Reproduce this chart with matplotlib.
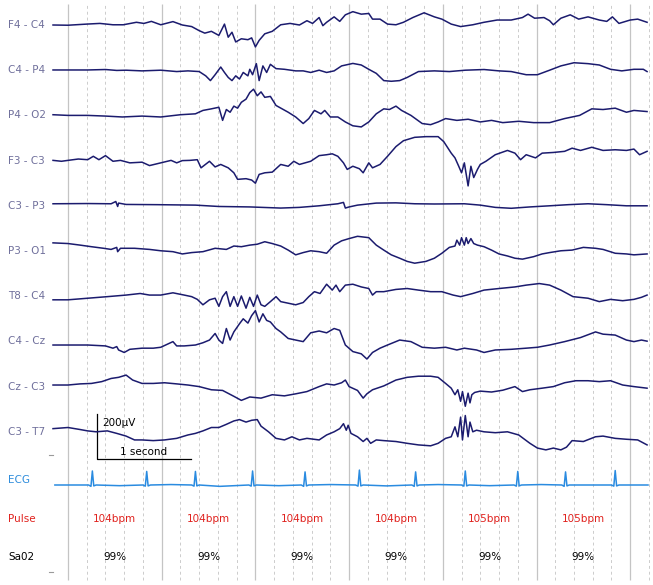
import matplotlib
matplotlib.use('Agg')
import matplotlib.pyplot as plt
import numpy as np

# EEG montage (bipolar), values in µV, time in seconds from the first solid grid line
channels = ['F4 - C4', 'C4 - P4', 'P4 - O2', 'F3 - C3', 'C3 - P3',
            'P3 - O1', 'T8 - C4', 'C4 - Cz', 'Cz - C3', 'C3 - T7']

f4c4_t = [-0.16, 0.00, 0.20, 0.34, 0.48, 0.59, 0.73, 0.81, 0.89, 0.99, 1.12, 1.22, 1.32, 1.40, 1.46,
          1.53, 1.61, 1.67, 1.71, 1.75, 1.79, 1.85, 1.92, 1.96, 2.00, 2.04, 2.10, 2.18, 2.27, 2.37,
          2.47, 2.55, 2.61, 2.68, 2.72, 2.76, 2.84, 2.90, 2.96, 3.04, 3.13, 3.21, 3.25, 3.33, 3.41,
          3.50, 3.58, 3.68, 3.80, 3.91, 3.99, 4.09, 4.19, 4.32, 4.44, 4.58, 4.73, 4.85, 4.91, 4.98,
          5.08, 5.14, 5.18, 5.26, 5.36, 5.45, 5.55, 5.67, 5.75, 5.81, 5.88, 6.00, 6.08, 6.18]
f4c4_uv = [0, -1, 4, 7, 1, 1, 12, 7, 16, 1, 15, 0, -7, -25, -36,
           -28, -46, 4, -54, -32, -75, -61, -65, -57, -97, -68, -39, -28, 1, 7,
           0, 19, 7, 33, -3, 12, 36, 16, 45, 59, 48, 51, 26, 26, 4,
           1, 12, 33, 54, 36, 26, 4, -7, 1, 12, 22, 22, 33, 48, 30,
           33, 19, 1, 30, 45, 26, 36, 22, 16, 36, 7, 22, 26, 12]

c4p4_t = [-0.16, 0.00, 0.21, 0.40, 0.52, 0.62, 0.79, 0.99, 1.16, 1.28, 1.40, 1.47, 1.52, 1.57, 1.63,
          1.67, 1.71, 1.75, 1.79, 1.83, 1.87, 1.92, 1.94, 1.97, 2.01, 2.04, 2.08, 2.12, 2.16, 2.22,
          2.31, 2.43, 2.51, 2.59, 2.68, 2.76, 2.84, 2.92, 3.04, 3.13, 3.21, 3.29, 3.37, 3.45, 3.54,
          3.62, 3.74, 3.91, 4.07, 4.24, 4.44, 4.60, 4.73, 4.89, 5.01, 5.14, 5.26, 5.40, 5.55, 5.67,
          5.79, 5.91, 6.04, 6.14, 6.18]
c4p4_uv = [1, 1, 1, 3, -1, 0, -3, 0, -6, -3, -6, -25, -46, -20, 14,
           -10, -32, -46, -25, -39, -10, -25, 4, -20, 29, -46, 19, -10, 26, 7,
           4, -3, -3, -10, 0, -10, -3, 19, 30, 23, 4, -14, -46, -49, -46,
           -32, -6, -3, -6, 0, 3, -3, -6, -20, -20, 0, 19, 33, 29, 23,
           4, -3, 4, 4, -6]

p4o2_t = [-0.16, 0.00, 0.21, 0.40, 0.58, 0.79, 0.99, 1.20, 1.36, 1.44, 1.53, 1.61, 1.65, 1.69, 1.73,
          1.77, 1.81, 1.85, 1.90, 1.94, 1.98, 2.02, 2.06, 2.10, 2.16, 2.22, 2.35, 2.43, 2.51, 2.57,
          2.63, 2.70, 2.74, 2.80, 2.88, 2.96, 3.04, 3.13, 3.21, 3.29, 3.37, 3.43, 3.50, 3.56, 3.66,
          3.78, 3.87, 3.95, 4.03, 4.15, 4.27, 4.40, 4.52, 4.64, 4.81, 4.97, 5.14, 5.30, 5.46, 5.59,
          5.71, 5.84, 5.96, 6.04, 6.18]
p4o2_uv = [3, 0, 0, -3, -7, -3, -7, 3, 7, 22, 29, 36, -22, 26, 14,
           41, 32, 58, 72, 101, 116, 87, 104, 80, 84, 44, 14, -7, -36, -14,
           22, 7, 22, -7, -7, -29, -46, -51, -29, 7, 29, 26, 41, 22, 0,
           -36, -41, -29, -14, -22, -17, -29, -22, -32, -26, -32, -32, -14, 0, 29,
           26, 32, 14, 22, 17]

f3c3_t = [-0.16, -0.07, 0.00, 0.11, 0.21, 0.27, 0.33, 0.40, 0.48, 0.56, 0.66, 0.79, 0.87, 0.99, 1.10,
          1.16, 1.22, 1.30, 1.38, 1.42, 1.51, 1.57, 1.63, 1.71, 1.77, 1.81, 1.90, 1.96, 2.00, 2.04,
          2.10, 2.18, 2.27, 2.35, 2.41, 2.47, 2.53, 2.59, 2.68, 2.76, 2.82, 2.88, 2.94, 2.98, 3.04,
          3.11, 3.15, 3.21, 3.25, 3.33, 3.41, 3.50, 3.58, 3.70, 3.82, 3.95, 4.01, 4.09, 4.13, 4.17,
          4.20, 4.23, 4.27, 4.30, 4.33, 4.37, 4.40, 4.46, 4.56, 4.69, 4.77, 4.83, 4.89, 4.99, 5.06,
          5.18, 5.30, 5.38, 5.47, 5.59, 5.71, 5.84, 5.96, 6.04, 6.10, 6.18]
f3c3_uv = [1, -3, 1, 7, 4, 19, 4, 22, -3, 1, -10, -7, -22, -10, 1,
           -10, 0, 1, 4, -32, -3, -28, -17, -32, -54, -83, -80, -86, -100, -61,
           -54, -51, -17, -25, -3, -17, -10, -3, 22, 26, 30, 19, -10, -39, -25,
           -36, -54, -10, -32, -17, 19, 62, 88, 103, 106, 106, 84, 33, 12, -25,
           -54, -10, -112, -25, -75, -39, -17, -3, 26, 45, 33, 4, 26, 12, 33,
           36, 41, 55, 45, 59, 45, 48, 45, 51, 26, 41]

c3p3_t = [-0.16, 0.21, 0.46, 0.51, 0.53, 0.54, 0.62, 0.95, 1.36, 1.61, 1.94, 2.27, 2.47, 2.68, 2.88,
          2.94, 2.96, 3.00, 3.09, 3.29, 3.50, 3.70, 3.91, 4.23, 4.40, 4.56, 4.73, 4.93, 5.14, 5.34,
          5.55, 5.75, 5.96, 6.18]
c3p3_uv = [9, 10, 9, 19, -3, 12, 6, 5, 3, -3, -5, -10, -7, 0, 9,
           15, -10, -5, 3, 12, 13, 9, 8, 9, 3, -7, -11, -5, 0, 5,
           9, 5, 0, 0]

p3o1_t = [-0.16, 0.00, 0.13, 0.25, 0.38, 0.46, 0.52, 0.53, 0.56, 0.71, 0.87, 0.99, 1.12, 1.22, 1.32,
          1.44, 1.57, 1.69, 1.77, 1.85, 1.94, 2.02, 2.10, 2.18, 2.27, 2.35, 2.43, 2.51, 2.59, 2.68,
          2.76, 2.84, 2.92, 3.00, 3.09, 3.15, 3.21, 3.29, 3.37, 3.45, 3.54, 3.62, 3.70, 3.82, 3.91,
          3.99, 4.07, 4.13, 4.15, 4.18, 4.20, 4.23, 4.25, 4.27, 4.30, 4.33, 4.37, 4.44, 4.52, 4.60,
          4.69, 4.77, 4.85, 4.97, 5.06, 5.14, 5.26, 5.38, 5.50, 5.63, 5.71, 5.84, 5.96, 6.04, 6.18]
p3o1_uv = [36, 33, 26, 19, 12, 7, 16, -3, 12, 12, 7, 1, -3, -13, -7,
           -3, 12, 7, 22, 19, 26, 30, 41, 33, 22, 4, -17, -7, 1, -3,
           -10, 26, 45, 55, 65, 62, 59, 26, 4, -17, -32, -46, -54, -46, -32,
           -10, 16, 22, 48, 26, 59, 26, 59, 33, 55, 33, 26, 19, 4, -13,
           -22, -32, -36, -25, -13, -7, 1, 4, 16, 12, 7, -10, -13, -17, -13]

t8c4_t = [-0.16, 0.00, 0.21, 0.42, 0.62, 0.77, 0.87, 0.99, 1.12, 1.24, 1.32, 1.38, 1.44, 1.51, 1.57,
          1.61, 1.65, 1.69, 1.73, 1.77, 1.81, 1.85, 1.90, 1.94, 1.98, 2.02, 2.06, 2.10, 2.16, 2.22,
          2.27, 2.35, 2.43, 2.51, 2.57, 2.63, 2.69, 2.76, 2.82, 2.86, 2.90, 2.96, 3.04, 3.13, 3.21,
          3.25, 3.29, 3.37, 3.50, 3.62, 3.74, 3.87, 3.99, 4.11, 4.19, 4.32, 4.44, 4.60, 4.77, 4.89,
          5.03, 5.14, 5.26, 5.39, 5.55, 5.67, 5.79, 5.92, 6.04, 6.12, 6.18]
t8c4_uv = [-16, -16, -9, -2, 5, 12, 5, 5, 15, 5, -2, -14, -38, -16, -9,
           -45, -2, 20, -45, -2, -45, 1, -53, -5, -45, 5, -38, -45, -24, -2,
           -24, -31, -38, -28, -2, 20, 12, 53, 27, 49, 20, 49, 53, 41, 34,
           5, 20, 20, 30, 34, 27, 20, 20, 5, -2, 12, 27, 34, 41, 49,
           56, 49, 27, -2, -9, -24, -14, -20, -14, -5, 5]

c4cz_t = [-0.16, 0.00, 0.21, 0.40, 0.48, 0.52, 0.54, 0.60, 0.66, 0.79, 0.91, 0.99, 1.12, 1.16, 1.24,
          1.36, 1.44, 1.51, 1.57, 1.61, 1.65, 1.69, 1.73, 1.77, 1.83, 1.87, 1.92, 1.96, 2.00, 2.04,
          2.08, 2.12, 2.16, 2.22, 2.27, 2.35, 2.43, 2.51, 2.59, 2.68, 2.76, 2.84, 2.90, 2.96, 3.04,
          3.13, 3.19, 3.25, 3.33, 3.41, 3.54, 3.66, 3.78, 3.91, 4.03, 4.15, 4.23, 4.36, 4.44, 4.56,
          4.73, 4.89, 5.01, 5.14, 5.30, 5.47, 5.63, 5.71, 5.84, 5.96, 6.04, 6.12, 6.18]
c4cz_uv = [-16, -16, -16, -20, -30, -23, -38, -49, -35, -30, -30, -26, -1, -20, -20,
           -16, -6, 6, 35, 6, -9, 57, 6, 42, 78, 100, 81, 114, 136, 86,
           122, 93, 86, 57, 42, 13, 6, -1, 38, 46, 38, 57, 49, -16, -45,
           -55, -78, -49, -30, -16, 6, -1, -26, -30, -26, -38, -30, -38, -49, -38,
           -35, -30, -26, -16, -1, 17, 42, 32, 28, 6, -1, 6, 1]

czc3_t = [-0.16, 0.00, 0.13, 0.25, 0.36, 0.46, 0.54, 0.62, 0.69, 0.79, 0.91, 1.03, 1.16, 1.28, 1.40,
          1.53, 1.65, 1.77, 1.85, 1.94, 2.06, 2.18, 2.31, 2.43, 2.55, 2.68, 2.76, 2.84, 2.92, 2.96,
          3.00, 3.09, 3.15, 3.19, 3.25, 3.37, 3.50, 3.62, 3.74, 3.87, 3.95, 4.03, 4.09, 4.13, 4.16,
          4.19, 4.21, 4.24, 4.27, 4.29, 4.31, 4.34, 4.40, 4.52, 4.64, 4.77, 4.85, 4.93, 5.06, 5.18,
          5.30, 5.42, 5.55, 5.67, 5.79, 5.92, 6.04, 6.18]
czc3_uv = [7, 7, 12, 14, 22, 36, 41, 51, 29, 14, 14, 17, 12, 7, 0,
           -14, -17, -43, -61, -46, -51, -36, -41, -32, -22, 0, 12, 7, 17, 29,
           0, -17, -51, -32, -14, 3, 29, 41, 46, 46, 41, 14, -7, -36, -14,
           -65, -22, -87, -29, -72, -36, -26, -20, -24, -16, 0, -22, -14, -7, 0,
           17, 26, 26, 22, 26, 7, 0, -7]

c3t7_t = [-0.16, 0.00, 0.13, 0.21, 0.30, 0.42, 0.52, 0.62, 0.71, 0.79, 0.91, 1.03, 1.16, 1.28, 1.36,
          1.44, 1.53, 1.61, 1.69, 1.77, 1.83, 1.90, 1.96, 2.02, 2.06, 2.14, 2.22, 2.31, 2.39, 2.47,
          2.55, 2.68, 2.76, 2.84, 2.90, 2.94, 2.97, 2.99, 3.02, 3.09, 3.15, 3.19, 3.23, 3.29, 3.37,
          3.50, 3.62, 3.74, 3.87, 3.95, 4.03, 4.09, 4.13, 4.16, 4.19, 4.21, 4.24, 4.27, 4.29, 4.32,
          4.36, 4.44, 4.56, 4.69, 4.81, 4.93, 5.01, 5.10, 5.18, 5.26, 5.32, 5.38, 5.50, 5.63, 5.71,
          5.84, 5.96, 6.08, 6.18]
c3t7_uv = [14, 19, 10, 4, 0, 4, -7, -19, -36, -36, -39, -36, -29, -14, -7,
           4, 19, 19, 33, 48, 54, 43, 51, 54, 25, 0, -29, -36, -22, -36,
           -29, -36, -14, 0, 14, 36, 7, 29, -7, -22, -43, -29, -51, -36, -39,
           -43, -51, -58, -62, -51, -29, -22, 22, -22, 65, -36, 72, -22, 43, 0,
           7, 0, -4, 0, -14, -51, -72, -80, -72, -80, -68, -39, -43, -22, -19,
           -29, -33, -36, -58]

eeg_t = [f4c4_t, c4p4_t, p4o2_t, f3c3_t, c3p3_t, p3o1_t, t8c4_t, c4cz_t, czc3_t, c3t7_t]
eeg_uv = [f4c4_uv, c4p4_uv, p4o2_uv, f3c3_uv, c3p3_uv, p3o1_uv, t8c4_uv, c4cz_uv, czc3_uv, c3t7_uv]

# ECG (same display scale)
ecg_t = [-0.14, 0.22, 0.245, 0.26, 0.275, 0.30, 0.55, 0.80, 0.825, 0.84, 0.855, 0.88, 1.10,
         1.32, 1.345, 1.36, 1.375, 1.40, 1.62, 1.93, 1.955, 1.97, 1.985, 2.01, 2.25,
         2.49, 2.515, 2.53, 2.545, 2.57, 2.80, 3.07, 3.095, 3.11, 3.125, 3.15, 3.40,
         3.67, 3.695, 3.71, 3.725, 3.75, 3.95, 4.20, 4.225, 4.24, 4.255, 4.28, 4.50,
         4.76, 4.785, 4.80, 4.815, 4.84, 5.05, 5.27, 5.295, 5.31, 5.325, 5.35, 5.55,
         5.80, 5.825, 5.84, 5.855, 5.88, 6.19]
ecg_uv = [0, 0, -6, 62, -4, 0, -3, 0, -5, 60, -4, 0, 2,
          0, -5, 60, -4, 0, -6, 0, -5, 62, -4, 0, -3,
          0, -6, 58, -4, 0, 2, 0, -5, 66, -4, 0, -4,
          0, -6, 58, -4, 0, 2, 0, -5, 62, -4, 0, -3,
          0, -5, 60, -4, 0, 2, 0, -6, 58, -4, 0, 0,
          0, -5, 64, -4, 0, 0]

pulse_t = [0.5, 1.5, 2.5, 3.5, 4.5, 5.5]
pulse_bpm = [104, 104, 104, 104, 105, 105]
sao2_pct = [99, 99, 99, 99, 99, 99]

# layout
spacing = 200            # µV between channel rows
uv_per_px = 200 / 45.2
t_per_px = 1 / 93.7
x0_px = 68               # pixel of t = 0

fig = plt.figure(figsize=(6.53, 5.85), dpi=100)
ax = fig.add_axes([0, 0, 1, 1])
ax.set_xlim(-x0_px * t_per_px, (653 - x0_px) * t_per_px)
ax.set_ylim(-(585 - 25) * uv_per_px, 25 * uv_per_px)
ax.axis('off')

# grid: solid every second, dashed every 0.2 s
y_top = 21 * uv_per_px
y_bot = -(580 - 25) * uv_per_px
for k in range(0, 32):
    tt = k * 0.2
    if k % 5 == 0:
        ax.vlines(tt, y_bot, y_top, color='#c4c4c4', lw=0.9, zorder=0)
    else:
        ax.vlines(tt, y_bot, y_top, color='#cccccc', lw=0.7, linestyles=(0, (3, 3)), zorder=0)

eeg_color = '#1b1b6e'
label_color = '#70709c'
label_x = -60 * t_per_px
fs = 7.5

for k, name in enumerate(channels):
    off = -k * spacing
    ax.plot(eeg_t[k], np.array(eeg_uv[k]) + off, color=eeg_color, lw=1.1, zorder=3)
    ax.text(label_x, off, name, color=label_color, fontsize=fs, va='center', ha='left')

# ECG row
ecg_off = -(480 - 25) * uv_per_px
ax.plot(ecg_t, np.array(ecg_uv) + ecg_off - 5 * uv_per_px, color='#2a8be0', lw=1.1, zorder=3)
ax.text(label_x, ecg_off, 'ECG', color='#2f8ddc', fontsize=fs, va='center', ha='left')

pulse_off = -(519 - 25) * uv_per_px
sao2_off = -(557.5 - 25) * uv_per_px
ax.text(label_x, pulse_off, 'Pulse', color='#e0221e', fontsize=fs, va='center', ha='left')
ax.text(label_x, sao2_off, 'Sa02', color='black', fontsize=fs, va='center', ha='left')
for tt, bpm, sp in zip(pulse_t, pulse_bpm, sao2_pct):
    ax.text(tt, pulse_off, f'{bpm}bpm', color='#e0221e', fontsize=fs, va='center', ha='center')
    ax.text(tt, sao2_off, f'{sp}%', color='black', fontsize=fs, va='center', ha='center')

# small separators on the left
for ypx in [455, 572]:
    yy = -(ypx - 25) * uv_per_px
    ax.plot([-19 * t_per_px, -15 * t_per_px], [yy, yy], color='#9a9a9a', lw=0.8)

# calibration bar: 200 µV, 1 second
bar_t = (97 - x0_px) * t_per_px
bar_y = -(459 - 25) * uv_per_px
ax.plot([bar_t, bar_t, bar_t + 1.0], [bar_y + 200, bar_y, bar_y], color='black', lw=0.9)
ax.text(bar_t + 5 * t_per_px, bar_y + 200 - 9 * uv_per_px, '200µV', fontsize=fs, va='center', ha='left')
ax.text(bar_t + 0.5, bar_y + 7 * uv_per_px, '1 second', fontsize=fs, va='center', ha='center')

plt.savefig('out.png', dpi=100)
